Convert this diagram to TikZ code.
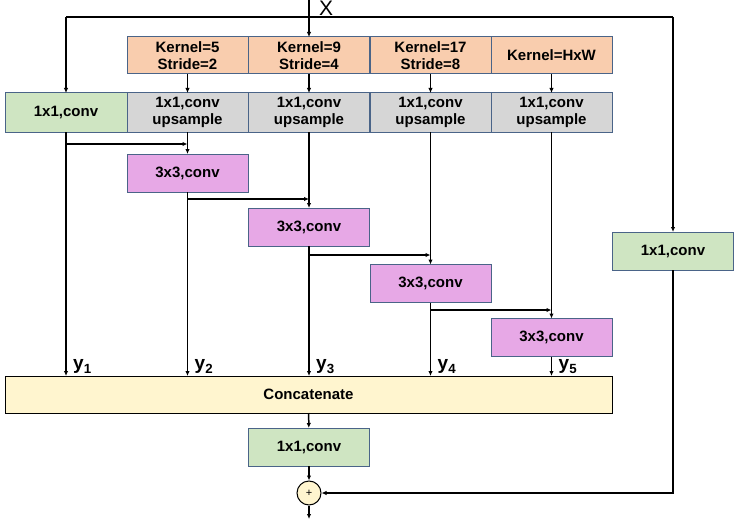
\documentclass[tikz,border=0pt]{standalone}
\usepackage{fontspec}
\setmainfont{Liberation Sans}
\usepackage{xcolor}
\usetikzlibrary{arrows.meta, positioning, calc}
\definecolor{kfill}{HTML}{F9CDAE}
\definecolor{gfill}{HTML}{CFE5C2}
\definecolor{ufill}{HTML}{D6D6D6}
\definecolor{pfill}{HTML}{E7A8E6}
\definecolor{cfill}{HTML}{FFF5CF}
\definecolor{edge}{HTML}{4A6488}
\begin{document}
\begin{tikzpicture}[x=1pt, y=-1pt, font=\fontsize{15}{17.5}\selectfont\bfseries]
\tikzstyle{block} = [rectangle, draw=edge, line width=1pt, text centered, inner sep=1pt, outer sep=0pt, minimum width=121pt, minimum height=38pt, align=center]
\tikzstyle{line} = [draw, line width=1.5pt, -{Latex[length=5pt,width=4.5pt]}]
\tikzstyle{lab} = [font=\fontsize{19}{19}\selectfont\bfseries, anchor=south west, inner sep=1pt]
\useasboundingbox (0,0) rectangle (737,519);
% pooling branches
\node [block, fill=kfill, minimum height=37pt] (k1) at (187.5,55.5) {Kernel=5\\Stride=2};
\node [block, fill=kfill, minimum height=37pt] (k2) at (309,55.5) {Kernel=9\\Stride=4};
\node [block, fill=kfill, minimum height=37pt] (k3) at (430.5,55.5) {Kernel=17\\Stride=8};
\node [block, fill=kfill, minimum height=37pt] (k4) at (551.5,55.5) {Kernel=HxW};
\node [block, fill=gfill, minimum width=122pt, minimum height=39pt] (c0) at (66,112.5) {1x1,conv};
\node [block, fill=ufill, minimum height=39pt] (u1) at (187.5,112.5) {1x1,conv\\upsample};
\node [block, fill=ufill, minimum height=39pt] (u2) at (309,112.5) {1x1,conv\\upsample};
\node [block, fill=ufill, minimum height=39pt] (u3) at (430.5,112.5) {1x1,conv\\upsample};
\node [block, fill=ufill, minimum height=39pt] (u4) at (551.5,112.5) {1x1,conv\\upsample};
\node [block, fill=pfill] (p1) at (187.5,173) {3x3,conv};
\node [block, fill=pfill] (p2) at (309,227) {3x3,conv};
\node [block, fill=pfill] (p3) at (430.5,283.5) {3x3,conv};
\node [block, fill=pfill] (p4) at (551.5,337.5) {3x3,conv};
\node [block, fill=gfill] (c6) at (673,251) {1x1,conv};
\node [block, draw=black, fill=cfill, minimum width=607pt, minimum height=37pt] (cat) at (308.5,394.5) {Concatenate};
\node [block, fill=gfill] (c5) at (309,447) {1x1,conv};
\node [circle, draw=black, line width=1pt, fill=cfill, minimum size=24pt, inner sep=0pt, font=\fontsize{11}{11}\selectfont] (plus) at (309,493) {+};
% input and side paths
\coordinate (in) at (309,0);
\coordinate (top) at (309,17);
\coordinate (out) at (309,519);
\node [font=\fontsize{21}{21}\selectfont, anchor=north west, inner sep=0pt] (xlab) at (319,0.5) {X};
\path [line] (in) -- (k2);
\draw [line width=1.5pt] (c0.north |- top) -- (c6.north |- top);
\path [line] (c0.north |- top) -- (c0);
\path [line] (c6.north |- top) -- (c6);
\path [line] (k1) -- (u1);
\path [line] (k2) -- (u2);
\path [line] (k3) -- (u3);
\path [line] (k4) -- (u4);
\path [line] (u1) -- (p1);
\path [line] (u2) -- (p2);
\path [line] (u3) -- (p3);
\path [line] (u4) -- (p4);
% cascade
\coordinate (b1) at (187.5,144);
\coordinate (b2) at (309,199);
\coordinate (b3) at (430.5,255);
\coordinate (b4) at (551.5,310);
\path [line] (c0.south |- b1) -- (b1);
\path [line] (p1.south |- b2) -- (b2);
\path [line] (p2.south |- b3) -- (b3);
\path [line] (p3.south |- b4) -- (b4);
% outputs
\path [line] (c0) -- (c0 |- cat.north);
\path [line] (p1) -- (p1 |- cat.north);
\path [line] (p2) -- (p2 |- cat.north);
\path [line] (p3) -- (p3 |- cat.north);
\path [line] (p4) -- (p4 |- cat.north);
\node [lab] (y1) at ($(c0 |- cat.north)+(6,-1)$) {y\textsubscript{1}};
\node [lab] (y2) at ($(p1 |- cat.north)+(6,-1)$) {y\textsubscript{2}};
\node [lab] (y3) at ($(p2 |- cat.north)+(6,-1)$) {y\textsubscript{3}};
\node [lab] (y4) at ($(p3 |- cat.north)+(6,-1)$) {y\textsubscript{4}};
\node [lab] (y5) at ($(p4 |- cat.north)+(6,-1)$) {y\textsubscript{5}};
\path [line] (cat) -- (c5);
\path [line] (c5) -- (plus);
\path [line] (c6) |- (plus);
\path [line] (plus) -- (out);
\end{tikzpicture}
\end{document}
